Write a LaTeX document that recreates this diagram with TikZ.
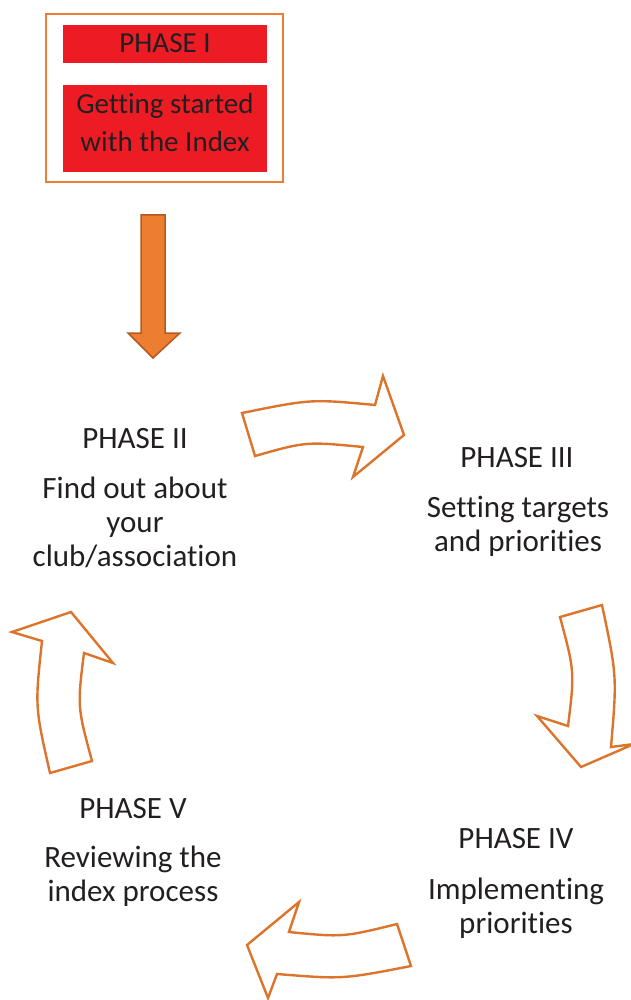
\documentclass[tikz,border=0pt]{standalone}
\usepackage{fontspec}
\setmainfont{Carlito}[Ligatures=NoCommon]
\usepackage{xcolor}
\definecolor{ink}{HTML}{231F20}
\definecolor{phasered}{HTML}{ED1C24}
\definecolor{orangefill}{HTML}{ED7D31}
\definecolor{orangeedge}{HTML}{B45A1E}
\definecolor{arrowline}{HTML}{DD742C}

\begin{document}
\begin{tikzpicture}[
    x=1pt, y=-1pt,
    every node/.style={text=ink, inner sep=0},
    redbox/.style={fill=phasered, minimum width=204, minimum height=#1},
    title/.style={anchor=base, font=\fontsize{31}{34}\selectfont},
    body/.style={anchor=base, align=center, font=\fontsize{31}{34}\selectfont},
    cyclearrow/.style={draw=arrowline, line width=2.4, fill=white}
]
\useasboundingbox (0,0) rectangle (631,1000);
\clip (0,0) rectangle (631,1000);

% Phase I frame with its two red boxes
\node[draw=orangefill, line width=2, minimum width=237, minimum height=168] (frame) at (164.5,98) {};
\node[redbox=38] (phaseI) at (165,44) {};
\node[redbox=87] (startbox) at (165,128.5) {};
\node[anchor=base, font=\fontsize{29}{38}\selectfont] (phaseIlabel) at (phaseI.center |- 0,53) {PHASE I};
% base of a multi-line node sits on its last line
\node[anchor=base, align=center, font=\fontsize{29}{38}\selectfont] (startlabel) at (startbox.center |- 0,152)
    {Getting started\\with the Index};

% Block arrow down into the cycle
\draw[fill=orangefill, draw=orangeedge, line width=1.5]
    (141,215) -- (165,215) -- (165,333) -- (180,333) -- (153,358) -- (128,333) -- (141,333) -- cycle;

% Phase labels round the cycle
\node[title] (phaseII) at (135,448) {PHASE II};
\node[body] (findout) at (135,566) {Find out about\\your\\club/association};

\node[title] (phaseIII) at (517,467) {PHASE III};
\node[body] (targets) at (518,551) {Setting targets\\and priorities};

\node[title] (phaseIV) at (516,848) {PHASE IV};
\node[body] (implement) at (516,933) {Implementing\\priorities};

\node[title] (phaseV) at (133,818) {PHASE V};
\node[body] (review) at (133,901) {Reviewing the\\index process};

% Curved outline arrows (II -> III -> IV -> V -> II)
\draw[cyclearrow] (242,413) .. controls (311,399) .. (375,405) -- (383,376) -- (404,435)
    -- (353,477) -- (363,447) .. controls (306,441.5) .. (255,456) -- cycle;
\draw[cyclearrow] (602,605) .. controls (617,676) .. (611,747) -- (634,744) -- (581,767)
    -- (537,716) -- (568,726) .. controls (574.7,671.8) .. (560,617) -- cycle;
\draw[cyclearrow] (397,924) .. controls (343,937.3) .. (289,932) -- (299,902) -- (247,945)
    -- (268,998) -- (277,974) .. controls (342.7,979.3) .. (411,966) -- cycle;
\draw[cyclearrow] (50,773) .. controls (34.9,706.6) .. (42,641) -- (12,632) -- (71,612)
    -- (113,663) -- (84,653) .. controls (77.3,706.6) .. (92,761) -- cycle;

\end{tikzpicture}
\end{document}
